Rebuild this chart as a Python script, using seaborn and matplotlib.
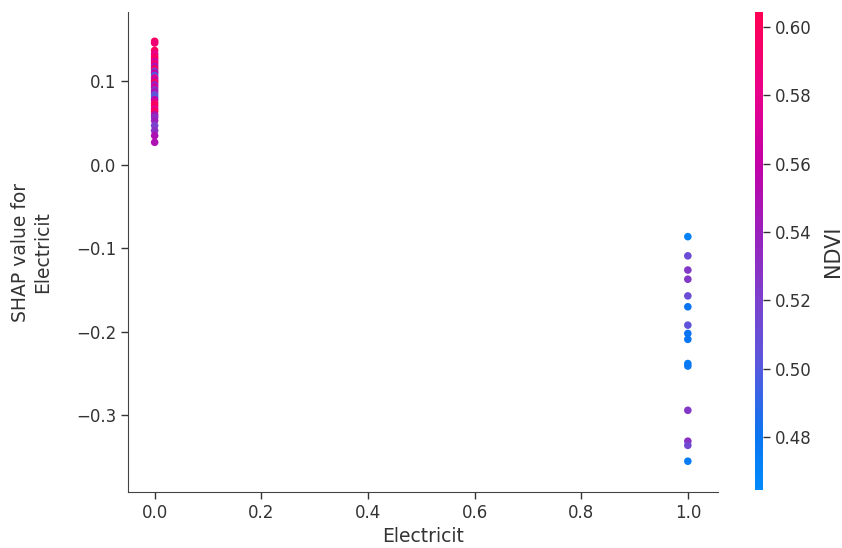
import numpy as np
import pandas as pd
import matplotlib
matplotlib.use("Agg")
import matplotlib.pyplot as plt
from matplotlib.colors import LinearSegmentedColormap, Normalize
from matplotlib.cm import ScalarMappable
import seaborn as sns

# ---- data ----
electricit_0_shap = [0.148, 0.146, 0.137, 0.133, 0.130, 0.127, 0.124, 0.121, 0.118, 0.115,
                     0.112, 0.110, 0.107, 0.104, 0.101, 0.099, 0.096, 0.093, 0.090, 0.087,
                     0.084, 0.081, 0.078, 0.074, 0.071, 0.067, 0.064, 0.060, 0.057, 0.053,
                     0.047, 0.041, 0.035, 0.027]
electricit_0_ndvi = [0.60, 0.59, 0.60, 0.58, 0.59, 0.60, 0.57, 0.59, 0.55, 0.60,
                     0.52, 0.56, 0.50, 0.58, 0.55, 0.60, 0.54, 0.57, 0.53, 0.55,
                     0.51, 0.50, 0.56, 0.59, 0.60, 0.58, 0.60, 0.55, 0.53, 0.54,
                     0.52, 0.53, 0.55, 0.55]
electricit_1_shap = [-0.086, -0.109, -0.126, -0.137, -0.157, -0.170, -0.192, -0.202,
                     -0.209, -0.238, -0.241, -0.294, -0.331, -0.336, -0.355]
electricit_1_ndvi = [0.470, 0.510, 0.525, 0.525, 0.510, 0.480, 0.505, 0.480,
                     0.480, 0.475, 0.478, 0.525, 0.530, 0.515, 0.475]

x_ticks = [0.0, 0.2, 0.4, 0.6, 0.8, 1.0]
y_ticks = [-0.3, -0.2, -0.1, 0.0, 0.1]
cb_ticks = [0.48, 0.50, 0.52, 0.54, 0.56, 0.58, 0.60]
ndvi_min, ndvi_max = 0.4645, 0.6044

df = pd.DataFrame({
    "Electricit": [0.0] * len(electricit_0_shap) + [1.0] * len(electricit_1_shap),
    "shap": electricit_0_shap + electricit_1_shap,
    "NDVI": electricit_0_ndvi + electricit_1_ndvi,
})

# SHAP-like red/blue colormap
cmap = LinearSegmentedColormap.from_list(
    "red_blue",
    [(0.00, "#008afb"), (0.11, "#0a75f0"), (0.26, "#5858dd"), (0.40, "#7c40cc"),
     (0.54, "#9a20bc"), (0.69, "#c400a6"), (0.83, "#e8008a"), (1.00, "#ff0052")])
norm = Normalize(vmin=ndvi_min, vmax=ndvi_max)

sns.set_style("ticks")
plt.rcParams["font.family"] = ["DejaVu Sans"]

fig = plt.figure(figsize=(8.42, 5.48), dpi=100)
ax = fig.add_axes([0.152, 0.102, 0.701, 0.876])
cax = fig.add_axes([0.8967, 0.106, 0.0095, 0.872])

sns.scatterplot(data=df, x="Electricit", y="shap", hue="NDVI", palette=cmap,
                hue_norm=norm, s=30, linewidth=0, alpha=1, legend=False, ax=ax)

ax.set_xlim(-0.05, 1.057)
ax.set_ylim(-0.392, 0.183)
ax.set_xticks(x_ticks)
ax.set_yticks(y_ticks)
ax.set_xticklabels([f"{t:.1f}" for t in x_ticks])
ax.set_yticklabels([f"{t:.1f}".replace("-", "\u2212") for t in y_ticks])
ax.tick_params(labelsize=12, colors="#333333", length=5, width=1)
ax.set_xlabel("Electricit", fontsize=13.5, color="#333333")
ax.set_ylabel("SHAP value for\nElectricit", fontsize=13.5, color="#333333", labelpad=17)
for s in ["top", "right"]:
    ax.spines[s].set_visible(False)
for s in ["left", "bottom"]:
    ax.spines[s].set_color("#444444")

sm = ScalarMappable(norm=norm, cmap=cmap)
cb = fig.colorbar(sm, cax=cax)
cb.outline.set_visible(False)
cb.set_ticks(cb_ticks)
cb.set_ticklabels([f"{t:.2f}" for t in cb_ticks])
cb.ax.tick_params(labelsize=12, colors="#333333", length=5, width=1)
cb.set_label("NDVI", fontsize=15, color="#333333", labelpad=8)

fig.savefig("out.png", dpi=100)
